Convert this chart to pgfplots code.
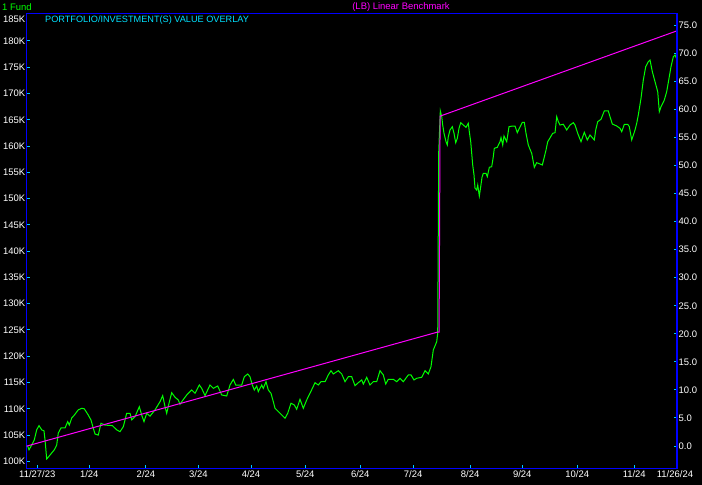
\documentclass[border=0pt]{standalone}
\usepackage{pgfplots}
\pgfplotsset{compat=1.18}
\usepackage{fontspec}
\setmainfont{Liberation Sans}
\usetikzlibrary{calc,backgrounds}

\definecolor{fundgreen}{RGB}{0,255,0}
\definecolor{lbmagenta}{RGB}{255,0,255}
\definecolor{axblue}{RGB}{0,0,255}
\definecolor{tkcyan}{RGB}{0,200,255}
\definecolor{ttlcyan}{RGB}{0,225,255}

\pgfplotsset{
  chart/.style={
    scale only axis, width=650bp, height=455.2bp,
    xmin=-4.05, xmax=251.4,
    axis line style={axblue, line width=1bp},
    tick style={tkcyan, line width=1bp},
    major tick length=3bp, tick align=inside,
    tick label style={white, font=\fontsize{9.5}{10}\selectfont, inner sep=1.5bp},
    axis background/.style={fill=black},
  }
}

\begin{document}
\begin{tikzpicture}
\begin{axis}[chart, name=ax,
  ymin=98.64, ymax=185.27,
  ytick={100,105,...,180},
  yticklabels={100K,105K,110K,115K,120K,125K,130K,135K,140K,145K,150K,155K,160K,165K,170K,175K,180K},
  extra y ticks={185}, extra y tick labels={185K},
  extra y tick style={major tick length=0pt, yticklabel style={yshift=-5bp}},
  ytick pos=left, xtick pos=bottom,
  xtick={0,20.4,42.7,63.3,84,105.3,126.9,147.7,170.1,190.6,212.2,234.6},
  xticklabels={11/27/23,1/24,2/24,3/24,4/24,5/24,6/24,7/24,8/24,9/24,10/24,11/24},
  extra x ticks={250.6}, extra x tick labels={11/26/24},
  extra x tick style={major tick length=0pt},
  xticklabel style={inner sep=2bp},
  clip=false,
]
% 1 Fund
\addplot[fundgreen, line width=1bp] coordinates {
(-3.77,102.9) (-3.26,102.2) (-2.2,103.1) (-1.18,104.1) (-0.24,106.0) (0.67,106.8)
(1.73,106.0) (2.63,105.8) (3.03,104.1) (3.69,100.45) (4.99,101.2) (6.68,102.2)
(7.62,103.1) (8.25,105.4) (9.31,106.35) (10.89,106.35) (11.95,107.55) (12.58,106.9)
(13.52,108.25) (14.54,108.8) (16.11,109.8) (17.45,110.1) (18.47,110.0) (20.04,108.8)
(21.1,107.87) (22.0,106.3) (22.68,105.2) (23.97,105.0) (25.03,107.25) (26.6,106.9)
(29.48,106.8) (31.2,106.0) (32.5,105.65) (33.8,106.6) (35.13,109.15) (36.43,109.15)
(37.1,107.9) (38.4,108.5) (40.09,110.4) (41.03,108.8) (41.93,107.55) (42.99,109.15)
(44.29,108.6) (46.26,109.8) (48.22,111.35) (49.28,112.5) (50.19,110.4) (50.85,109.15)
(51.76,111.05) (52.82,113.07) (54.12,112.2) (55.41,111.68) (56.08,110.86) (56.75,111.35)
(58.71,112.63) (60.68,113.58) (61.98,112.95) (63.67,114.53) (64.61,113.9) (65.91,112.5)
(67.87,114.53) (69.17,113.9) (70.9,114.34) (72.47,112.63) (74.43,112.44) (75.73,114.53)
(77.03,115.6) (77.97,114.53) (80.33,114.53) (81.35,116.1) (82.69,116.63) (83.59,116.1)
(84.5,114.53) (85.28,113.58) (86.22,114.34) (86.85,113.26) (88.19,114.53) (88.82,113.9)
(89.88,115.16) (90.78,113.58) (91.84,112.95) (92.75,111.35) (93.42,110.1) (95.38,109.15)
(97.35,108.2) (98.41,109.15) (99.7,111.05) (101.0,110.73) (101.94,109.91) (103.24,111.81)
(104.54,110.1) (105.87,111.68) (107.17,112.95) (109.14,114.97) (110.43,114.53) (111.49,115.16)
(113.07,115.16) (114.36,116.44) (115.42,117.26) (116.33,116.63) (118.29,117.26) (119.63,116.63)
(120.93,115.16) (122.22,116.11) (123.56,116.11) (124.86,114.4) (126.15,114.97) (127.49,115.49)
(128.12,114.72) (129.45,116.0) (130.75,114.53) (132.05,115.16) (133.38,115.16) (134.68,117.26)
(135.98,116.44) (136.92,114.72) (137.94,115.62) (139.91,115.62) (141.25,115.16) (142.54,115.81)
(143.84,115.16) (145.8,116.44) (146.86,116.44) (148.04,115.49) (149.1,115.81) (151.07,116.0)
(152.37,117.26) (153.66,116.63) (154.72,118.02) (155.63,121.2) (156.96,122.77) (157.36,124.37)
(157.75,158.87) (158.38,166.68) (158.93,165.6) (159.32,164.0) (159.83,162.43) (160.62,160.83)
(161.13,160.2) (161.52,161.78) (162.19,163.06) (163.1,163.69) (163.76,162.43) (164.43,160.64)
(165.06,161.48) (165.73,163.38) (166.4,164.45) (167.42,164.01) (168.48,163.57) (169.38,164.34)
(169.78,162.74) (170.33,160.83) (171.11,156.4) (171.62,154.5) (172.02,151.97) (172.68,151.64)
(173.08,152.6) (173.71,150.5) (174.26,152.27) (174.77,154.06) (175.28,154.82) (176.34,154.82)
(176.85,154.17) (177.64,155.96) (178.58,156.08) (179.21,157.98) (179.6,159.58) (180.78,159.77)
(181.84,160.83) (182.24,161.6) (182.9,160.2) (183.41,161.92) (184.48,160.83) (185.38,163.69)
(186.83,163.82) (187.74,163.82) (188.64,162.55) (189.43,163.38) (190.61,164.53) (191.39,164.53)
(192.06,162.43) (192.96,160.2) (193.63,159.39) (194.3,158.63) (195.32,155.96) (196.26,156.84)
(197.56,156.59) (198.47,156.4) (199.13,157.68) (199.92,159.25) (200.59,160.83) (201.77,161.79)
(202.55,162.43) (203.46,162.55) (204.13,165.59) (204.76,164.64) (205.42,164.01) (206.72,164.15)
(208.06,163.06) (209.35,164.01) (210.65,164.45) (211.32,164.01) (212.38,162.43) (213.68,160.83)
(214.97,162.62) (216.15,161.16) (217.21,162.11) (218.9,161.16) (219.45,163.06) (220.24,164.64)
(221.53,165.1) (222.83,166.68) (224.4,166.68) (225.07,165.59) (225.98,164.2) (227.71,163.82)
(229.01,163.38) (229.68,162.74) (230.7,164.15) (232.04,164.15) (232.66,163.69) (233.6,161.16)
(234.9,163.06) (235.57,164.34) (236.19,165.92) (237.25,169.09) (238.16,172.58) (239.1,175.11)
(240.12,176.06) (240.79,176.38) (241.7,174.16) (242.76,172.25) (243.82,170.35) (244.45,166.54)
(245.12,167.49) (246.41,168.77) (247.35,170.35) (248.26,172.9) (249.04,175.11) (249.95,177.01)
(250.62,177.33) (251.13,176.71)
};
% (LB) Linear Benchmark
\addplot[lbmagenta, line width=1bp] coordinates {
(-4.2,102.9) (157.3,124.6) (157.9,124.6) (158.3,165.7) (251.2,181.9)
};
\end{axis}
\begin{axis}[chart,
  ymin=-4.01, ymax=77.14,
  hide x axis, axis y line*=right,
  y axis line style={line width=2bp},
  ytick={0,5,...,75},
  yticklabels={0.0,5.0,10.0,15.0,20.0,25.0,30.0,35.0,40.0,45.0,50.0,55.0,60.0,65.0,70.0,75.0},
  axis background/.style={},
]
\end{axis}
\node[anchor=west, fundgreen, font=\fontsize{9.5}{10}\selectfont, inner sep=0pt]
  at ($(ax.north west)+(-25bp,6.5bp)$) {1 Fund};
\node[lbmagenta, font=\fontsize{9.5}{10}\selectfont, inner sep=0pt]
  at ($(ax.north west)+(374bp,6.5bp)$) {(LB) Linear Benchmark};
\node[anchor=west, ttlcyan, font=\fontsize{9.2}{10}\selectfont, inner sep=0pt]
  at ($(ax.north west)+(18bp,-7.2bp)$) {PORTFOLIO/INVESTMENT(S) VALUE OVERLAY};
\begin{scope}[on background layer]
\fill[black] ($(ax.south west)+(-27bp,-16.5bp)$) rectangle ($(ax.north east)+(25bp,13.3bp)$);
\end{scope}
\pgfresetboundingbox
\path[use as bounding box] ($(ax.south west)+(-27bp,-16.5bp)$) rectangle ($(ax.north east)+(25bp,13.3bp)$);
\end{tikzpicture}
\end{document}
